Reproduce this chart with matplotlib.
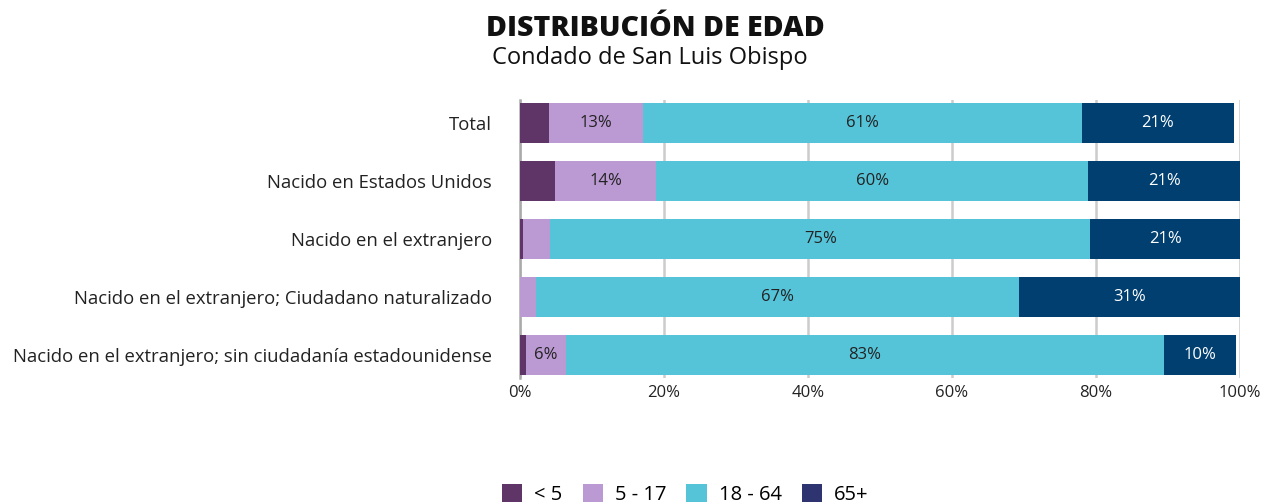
import matplotlib
matplotlib.use("Agg")
import matplotlib.pyplot as plt
from matplotlib.patches import Patch
import numpy as np

plt.rcParams['font.family'] = ['Open Sans', 'DejaVu Sans']

categories = ["Total",
              "Nacido en Estados Unidos",
              "Nacido en el extranjero",
              "Nacido en el extranjero; Ciudadano naturalizado",
              "Nacido en el extranjero; sin ciudadanía estadounidense"]
groups = ["< 5", "5 - 17", "18 - 64", "65+"]
under5 = [4.1, 4.9, 0.4, 0.0, 0.8]
age5_17 = [13.0, 14.0, 3.8, 2.2, 5.6]
age18_64 = [61.0, 60.0, 75.0, 67.1, 83.0]
age65 = [21.0, 21.1, 20.8, 30.7, 10.0]

bar_colors = ['#5e3566', '#bb99d2', '#55c4d9', '#003f70']
legend_colors = ['#5e3566', '#bb99d2', '#55c4d9', '#2e3470']
text_colors = ['#222222', '#222222', '#222222', '#ffffff']

fig = plt.figure(figsize=(12.62, 5.04), dpi=100)
ax = fig.add_axes([0.412, 0.25, 0.5706, 0.552])

y = np.arange(len(categories))
left = np.zeros(len(categories))
for vals, col, tc in zip([under5, age5_17, age18_64, age65], bar_colors, text_colors):
    vals = np.array(vals)
    ax.barh(y, vals, left=left, height=0.69, color=col, zorder=3)
    for i, v in enumerate(vals):
        if v > 5:
            ax.text(left[i] + v / 2, y[i], f"{round(v):.0f}%", ha='center', va='center',
                    color=tc, fontsize=12, zorder=4)
    left += vals

ax.set_xlim(0, 100)
ax.set_ylim(4.4, -0.4)
ax.set_yticks(y)
ax.set_yticklabels(categories, fontsize=13.3, color='#222222')
ax.set_xticks([0, 20, 40, 60, 80, 100])
ax.set_xticklabels([f"{t}%" for t in [0, 20, 40, 60, 80, 100]], fontsize=12, color='#222222')
ax.tick_params(axis='both', length=0)
ax.tick_params(axis='y', pad=20)
ax.tick_params(axis='x', pad=5)
ax.xaxis.grid(True, color='#cccccc', linewidth=1.8, zorder=0)
for s in ['top', 'right', 'bottom']:
    ax.spines[s].set_visible(False)
ax.spines['left'].set_color('#aaaaaa')
ax.spines['left'].set_linewidth(1.8)

fig.text(0.519, 0.943, "DISTRIBUCIÓN DE EDAD", ha='center', va='center',
         fontsize=20.5, fontweight='heavy', color='#111111')
fig.text(0.515, 0.884, "Condado de San Luis Obispo", ha='center', va='center',
         fontsize=17, color='#111111')

handles = [Patch(facecolor=c, edgecolor='none') for c in legend_colors]
fig.legend(handles, groups, loc='center', bbox_to_anchor=(0.543, 0.018), ncol=4,
           frameon=False, fontsize=14.5, handlelength=1.0, handleheight=1.0,
           handletextpad=0.6, columnspacing=1.0)

fig.savefig("out.png", dpi=100)
